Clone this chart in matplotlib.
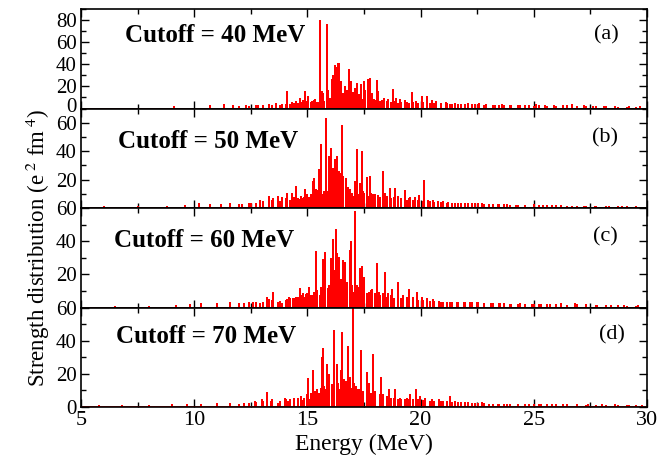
import numpy as np
import matplotlib
matplotlib.use('Agg')
import matplotlib.pyplot as plt
from matplotlib.ticker import MultipleLocator
from matplotlib.transforms import ScaledTranslation

plt.rcParams['font.family'] = 'Liberation Serif'
plt.rcParams['mathtext.fontset'] = 'stix'

# strong transitions (energy in MeV, strength in e^2 fm^4) for each cutoff
energy_40 = [9.1, 10.7, 11.3, 11.7, 12.3, 12.8, 13.3, 13.6, 13.9, 14.11, 14.3, 14.5, 14.67, 14.8, 14.89,
             15.04, 15.2, 15.35, 15.45, 15.56, 15.64, 15.70, 15.85, 15.92, 16.00, 16.07, 16.14, 16.22,
             16.29, 16.37, 16.41, 16.47, 16.59, 16.67, 16.73, 16.84, 16.93, 17.0, 17.10, 17.18, 17.25,
             17.37, 17.50, 17.56, 17.68, 17.76, 17.85, 17.95, 18.06, 18.13, 18.28, 18.40, 18.57, 18.77,
             18.91, 19.09, 19.31, 19.6, 19.8, 20.05, 20.27, 20.49, 20.7, 20.9, 21.1, 21.3, 21.5, 21.8,
             22.1, 22.4, 22.6, 22.9, 23.3, 23.6, 24.0, 24.4, 24.8, 25.1, 25.5, 25.9, 26.3, 26.7, 27.2,
             27.6, 28.1, 28.6, 29.2, 29.7]
strength_40 = [1, 2, 3, 2, 2, 2, 3, 4, 3, 14.5, 5, 6, 9, 7, 14.5,
               10, 6, 8, 5, 79.5, 15, 13, 75.5, 16, 9, 25.5, 29, 38,
               37, 40, 40, 24, 13, 19, 16, 34.5, 24, 14, 18, 22.4, 12,
               21, 24, 16, 25.5, 27, 13, 8, 25, 15, 7, 9, 8, 16.4,
               9, 8, 7, 14, 6, 10, 10, 7, 6, 4, 5, 3, 4, 3,
               4, 3, 4, 3, 2, 3, 2, 2, 2, 3, 2, 2, 2, 3, 2,
               1.5, 1, 1.5, 1, 1]

energy_50 = [6.0, 7.5, 8.8, 9.6, 10.2, 10.7, 11.2, 11.6, 12.1, 12.5, 12.9, 13.3, 13.5, 13.7, 13.9, 14.1,
             14.30, 14.50, 14.65, 14.78, 14.91, 15.05, 15.15, 15.23, 15.29, 15.38, 15.50, 15.59, 15.70,
             15.82, 15.89, 15.97, 16.06, 16.14, 16.22, 16.29, 16.38, 16.44, 16.51, 16.59, 16.70, 16.81,
             16.88, 17.00, 17.10, 17.20, 17.32, 17.41, 17.50, 17.62, 17.76, 17.91, 18.13, 18.32, 18.43,
             18.65, 18.87, 19.02, 19.31, 19.53, 19.75, 19.94, 20.15, 20.34, 20.56, 20.78, 21.0, 21.2,
             21.5, 21.8, 22.1, 22.4, 22.7, 23.0, 23.4, 23.8, 24.2, 24.6, 25.0, 25.4, 25.8, 26.2, 26.7,
             27.2, 27.7, 28.3, 28.9, 29.5]
strength_50 = [0.5, 0.5, 1, 1.5, 2.5, 2, 2, 2.5, 2, 3, 5, 8, 6, 8, 7, 10,
               10, 15, 5.6, 6, 12.5, 7, 9, 18.4, 20.7, 12.5, 27, 44.6, 9,
               62.6, 11, 35.8, 41.6, 27.7, 33.5, 35.8, 25, 24, 58, 22, 20.7, 14,
               13, 8, 18.4, 41, 17, 39.3, 10, 21, 22, 9, 8.4, 25, 10,
               13.7, 13.7, 8, 12, 7, 7, 8.4, 18.8, 5, 5, 4, 4, 3.5,
               3, 3, 2.5, 3, 2.5, 2, 2, 2, 1.5, 1.5, 2, 1.5, 1.5, 1.5, 1,
               1, 1, 1, 0.8, 0.8]

energy_60 = [6.5, 8.0, 9.2, 9.8, 10.3, 11.0, 11.6, 12.2, 12.6, 12.9, 13.2, 13.3, 13.5, 13.7, 13.9, 14.1,
             14.2, 14.35, 14.50, 14.67, 14.8, 14.94, 15.08, 15.19, 15.38, 15.55, 15.70, 15.78, 15.92,
             16.03, 16.12, 16.18, 16.25, 16.32, 16.40, 16.47, 16.56, 16.66, 16.76, 16.88, 16.94, 17.03,
             17.12, 17.21, 17.32, 17.41, 17.50, 17.62, 17.84, 18.09, 18.18, 18.43, 18.57, 18.72, 19.02,
             19.24, 19.47, 19.68, 19.85, 20.05, 20.27, 20.56, 20.8, 21.0, 21.3, 21.6, 21.9, 22.2, 22.5,
             22.8, 23.1, 23.5, 24.0, 24.4, 24.9, 25.3, 25.7, 26.2, 26.8, 27.3, 27.8, 28.4, 29.0, 29.6]
strength_60 = [0.5, 0.5, 1, 1.5, 2, 2, 2.5, 2, 3, 2, 6, 4.7, 8.6, 3, 2, 4.7,
               6, 5, 6, 11, 8, 7.6, 12, 7, 33.7, 7, 28.8, 32.7, 11,
               29.2, 41, 22, 46.5, 32, 29.8, 16.5, 28.2, 27, 13, 34, 39.4, 9,
               57.3, 13, 23.3, 24.3, 17.5, 8, 10.5, 26.3, 9, 20.8, 8, 10.5, 15,
               7, 10.6, 6, 8.6, 6, 5, 4.5, 3.5, 3, 2.5, 3, 2.5, 3, 3,
               2, 2, 2, 1.5, 2, 1.5, 1.5, 1.5, 2, 2, 1.5, 1, 1, 0.8, 0.8]

energy_70 = [5.8, 6.8, 8.0, 9.0, 9.7, 10.3, 11.0, 11.6, 12.2, 12.7, 13.0, 13.2, 13.4, 13.7, 14.0, 14.15,
             14.4, 14.6, 14.8, 15.01, 15.12, 15.23, 15.38, 15.50, 15.63, 15.70, 15.78, 15.88, 15.97,
             16.07, 16.19, 16.29, 16.39, 16.47, 16.53, 16.63, 16.70, 16.81, 16.88, 17.00, 17.07, 17.15,
             17.25, 17.35, 17.44, 17.62, 17.72, 17.88, 17.98, 18.24, 18.35, 18.62, 18.87, 19.09, 19.31,
             19.53, 19.78, 19.97, 20.19, 20.49, 20.8, 21.0, 21.3, 21.5, 21.8, 22.1, 22.4, 22.7, 23.0,
             23.4, 23.8, 24.3, 24.8, 25.3, 25.8, 26.3, 26.9, 27.4, 28.0, 28.6, 29.2, 29.8]
strength_70 = [0.5, 0.5, 0.5, 1, 1.5, 1.5, 2, 2, 2, 3, 4, 8.3, 3, 2, 5, 3,
               3, 5, 3.5, 17, 4, 21.8, 9, 8, 29.5, 35, 10, 25.5, 19.4,
               13, 46, 25.5, 10, 21.8, 44.6, 16.4, 15, 36, 17.4, 62, 14, 10,
               10.5, 33.5, 7, 20.8, 14, 31.5, 8, 17.4, 7, 10.3, 10.3, 5, 4,
               7, 10.3, 6, 5, 4, 4, 3, 6, 3, 2.5, 2.5, 2, 2.5, 1.5,
               1.5, 1.5, 1.5, 1.5, 1, 1.5, 1, 1.5, 1, 1, 1, 0.8, 0.8]

# weak background transitions, same energies for all cutoffs
bg_energy = [12.0, 12.4, 12.75, 13.05, 13.45, 13.8, 14.05, 14.25, 14.42, 14.58,
             14.72, 14.85, 14.97, 15.15, 15.27, 15.42, 15.6, 15.75, 15.95, 16.1,
             16.34, 16.55, 16.77, 16.98, 17.14, 17.3, 17.46, 17.7, 17.8, 18.0,
             18.2, 18.35, 18.5, 18.68, 18.82, 18.98, 19.15, 19.4, 19.5, 19.65,
             19.9, 20.1, 20.4, 20.6, 20.9, 21.15, 21.4, 21.65, 21.95, 22.25,
             22.55, 22.8, 23.2, 23.45, 23.7, 23.95, 24.3, 24.6, 25.0, 25.25,
             25.6, 26.0, 26.45, 26.9, 27.3, 27.75, 28.2, 28.7, 29.1, 29.5]
bg_40 = [1, 1.5, 2, 2, 2.5, 2, 3, 3, 4, 4,
         5, 4, 6, 5, 7, 5, 8, 6, 7, 9,
         10, 8, 11, 9, 10, 12, 8, 10, 9, 7,
         6, 5, 6, 5, 6, 4, 5, 5, 4, 5,
         4, 5, 4, 4, 3, 4, 3, 3.5, 3, 3,
         3, 2.5, 2.5, 2, 2, 2.5, 2, 2, 1.5, 2,
         1.5, 1.5, 2, 1.5, 1, 1, 1, 0.8, 0.8, 0.6]
bg_50 = [2, 2.5, 3, 4, 5, 4, 6, 5, 7, 6,
         8, 7, 9, 8, 10, 12, 9, 11, 10, 12,
         11, 13, 9, 10, 12, 9, 11, 8, 10, 9,
         7, 6, 8, 6, 7, 5, 6, 5, 6, 5,
         5, 4, 4, 3.5, 3.5, 3, 3, 3, 2.5, 2.5,
         2.5, 2, 2, 2, 2, 1.5, 1.5, 1.5, 1.5, 1.5,
         1.2, 1.2, 1, 1, 1, 0.8, 0.8, 0.8, 0.6, 0.6]
bg_60 = [2, 2.5, 3, 3, 4, 3.5, 4, 5, 5, 6,
         7, 6, 8, 7, 9, 10, 12, 11, 13, 12,
         14, 12, 15, 13, 11, 12, 10, 9, 10, 8,
         7, 8, 6, 7, 5, 6, 5, 6, 4, 5,
         4, 4, 3.5, 3.5, 3, 3, 2.5, 3, 2.5, 2.5,
         2.5, 2, 2, 2, 2, 1.5, 1.5, 1.5, 1.5, 1.5,
         1.5, 1.5, 1.2, 1.5, 1, 1, 0.8, 0.8, 0.6, 0.6]
bg_70 = [1.5, 2, 2.5, 3, 4, 3, 4, 4, 5, 5,
         6, 5, 7, 8, 9, 10, 11, 12, 13, 11,
         14, 12, 13, 11, 12, 10, 9, 10, 8, 9,
         7, 6, 6, 5, 5, 4, 4, 5, 4, 4,
         4, 3.5, 3, 3, 3, 3, 2.5, 2.5, 2.5, 2,
         2, 2, 1.5, 1.5, 1.5, 1.5, 1.5, 1.2, 1.2, 1.2,
         1, 1, 1, 1, 0.8, 0.8, 0.8, 0.6, 0.6, 0.6]

cutoffs = [40, 50, 60, 70]
panel_tags = ['(a)', '(b)', '(c)', '(d)']
energies = [energy_40, energy_50, energy_60, energy_70]
strengths = [strength_40, strength_50, strength_60, strength_70]
backgrounds = [bg_40, bg_50, bg_60, bg_70]
ymax = [90, 70, 60, 60]
yticks = [[0, 20, 40, 60, 80], [0, 20, 40, 60], [0, 20, 40, 60], [0, 20, 40, 60]]
# the zero of panels (b) and (c) sits under the "60" of the panel below
ylabels = [['0', '20', '40', '60', '80'], ['', '20', '40', '60'],
           ['', '20', '40', '60'], ['0', '20', '40', '60']]

text_pos = [(0.237, 0.737), (0.224, 0.67), (0.217, 0.67), (0.221, 0.707)]
tag_pos = [(0.929, 0.737), (0.926, 0.70), (0.926, 0.71), (0.938, 0.727)]


def stick_line(e, s):
    # each line drawn as a stick rising from the zero line
    order = np.argsort(e)
    e = np.asarray(e, float)[order]
    s = np.asarray(s, float)[order]
    x = np.repeat(e, 3)
    y = np.zeros(len(x))
    y[1::3] = s
    return np.concatenate([[5], x, [30]]), np.concatenate([[0], y, [0]])


fig, axes = plt.subplots(4, 1, sharex=True, figsize=(6.59, 4.57), dpi=100)
fig.subplots_adjust(left=0.1229, right=0.9818, top=0.9803, bottom=0.1094, hspace=0)

for i, ax in enumerate(axes):
    x, y = stick_line(energies[i] + bg_energy, strengths[i] + backgrounds[i])
    ax.plot(x, y, color='red', lw=1.3)
    ax.set_xlim(5, 30)
    ax.set_ylim(0, ymax[i])
    ax.set_yticks(yticks[i])
    ax.set_yticklabels(ylabels[i])
    ax.yaxis.set_minor_locator(MultipleLocator(10))
    ax.xaxis.set_major_locator(MultipleLocator(5))
    ax.xaxis.set_minor_locator(MultipleLocator(2.5))
    ax.tick_params(which='both', direction='in', top=True, right=True, width=1.0)
    ax.tick_params(axis='y', labelsize=15, pad=3)
    ax.tick_params(axis='x', labelsize=16, pad=3)
    ax.tick_params(which='major', length=6)
    ax.tick_params(which='minor', length=3.5)
    for sp in ax.spines.values():
        sp.set_linewidth(1.2)
    ax.text(text_pos[i][0], text_pos[i][1], 'Cutoff = %d MeV' % cutoffs[i], transform=ax.transAxes,
            fontsize=18, fontweight='bold', ha='center', va='center')
    ax.text(tag_pos[i][0], tag_pos[i][1], panel_tags[i], transform=ax.transAxes,
            fontsize=16, ha='center', va='center')

# lift the bottom "0" of panel (a) a little so it clears the "60" below
zero_lbl = axes[0].get_yticklabels()[0]
zero_lbl.set_transform(zero_lbl.get_transform() + ScaledTranslation(0, 2.5 / 72, fig.dpi_scale_trans))

fig.text(0.552, 0.028, 'Energy (MeV)', fontsize=17, ha='center', va='center')
fig.text(0.058, 0.457, r'Strength distribution (e$^{\ 2}$ fm$^{\ 4}$)', fontsize=16.5,
         rotation=90, ha='center', va='center')

plt.savefig('out.png', dpi=100)
